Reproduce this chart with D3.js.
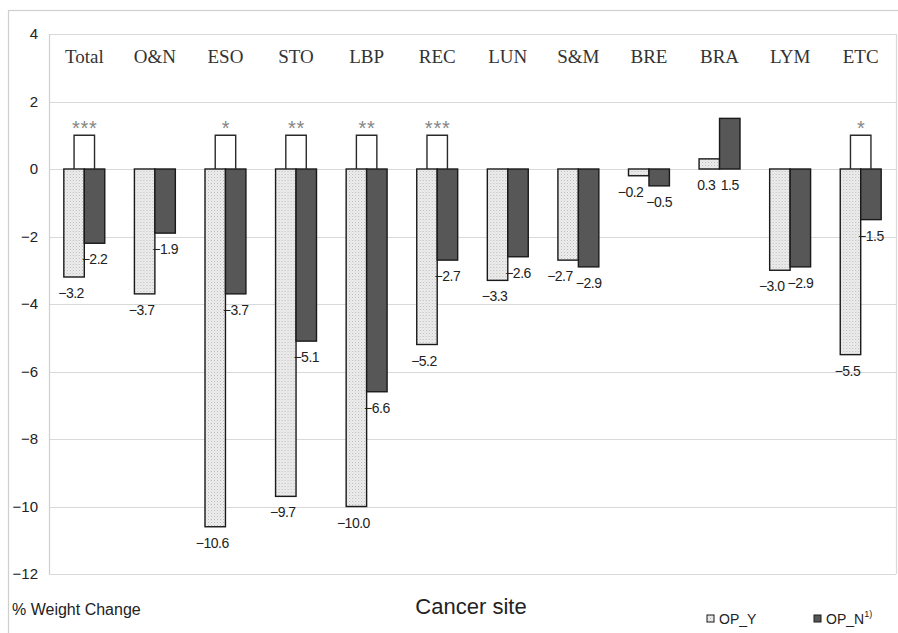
<!DOCTYPE html>
<html>
<head>
<meta charset="utf-8">
<script src="https://cdn.jsdelivr.net/npm/d3@7"></script>
<style>
  html, body { margin: 0; padding: 0; background: #fff; }
  svg { display: block; }
</style>
</head>
<body>
<svg id="chart" width="898" height="633"></svg>
<script>
// Cancer sites and mean % weight change by group
const sites = ["Total", "O&N", "ESO", "STO", "LBP", "REC", "LUN", "S&M", "BRE", "BRA", "LYM", "ETC"];
const opY = [-3.2, -3.7, -10.6, -9.7, -10.0, -5.2, -3.3, -2.7, -0.2, 0.3, -3.0, -5.5];
const opN = [-2.2, -1.9, -3.7, -5.1, -6.6, -2.7, -2.6, -2.9, -0.5, 1.5, -2.9, -1.5];
const significance = ["***", "", "*", "**", "**", "***", "", "", "", "", "", "*"];
const seriesNames = ["OP_Y", "OP_N"];
const yTicks = [-12, -10, -8, -6, -4, -2, 0, 2, 4];

const svg = d3.select("#chart");
const plot = { left: 49, right: 896, top: 34, bottom: 574 };
const sans = "Liberation Sans, Arial, sans-serif";

// stippled fill for the OP_Y bars
const defs = svg.append("defs");
const pat = defs.append("pattern")
  .attr("id", "dots").attr("patternUnits", "userSpaceOnUse")
  .attr("width", 3).attr("height", 3);
pat.append("rect").attr("width", 3).attr("height", 3).attr("fill", "#eeeeee");
pat.append("rect").attr("x", 0).attr("y", 0).attr("width", 1).attr("height", 1).attr("fill", "#b8b8b8");
pat.append("rect").attr("x", 1.5).attr("y", 1.5).attr("width", 1).attr("height", 1).attr("fill", "#cfcfcf");

// outer frame
svg.append("rect")
  .attr("x", 8.5).attr("y", 10.5).attr("width", 900).attr("height", 640)
  .attr("fill", "none").attr("stroke", "#cfcfcf").attr("stroke-width", 1.2);

const x = d3.scaleBand().domain(sites).range([plot.left, plot.right])
  .paddingInner(0.42).paddingOuter(0.21);
const xs = d3.scaleBand().domain(seriesNames).range([0, x.bandwidth()]);
const y = d3.scaleLinear().domain([-12, 4]).range([plot.bottom, plot.top]);

// gridlines and plot edges
svg.append("g").selectAll("line").data(yTicks).join("line")
  .attr("x1", plot.left).attr("x2", plot.right)
  .attr("y1", d => Math.round(y(d)) + 0.5).attr("y2", d => Math.round(y(d)) + 0.5)
  .attr("stroke", "#d9d9d9").attr("stroke-width", 1.2);
svg.append("line")
  .attr("x1", plot.left + 0.5).attr("x2", plot.left + 0.5)
  .attr("y1", plot.top).attr("y2", plot.bottom)
  .attr("stroke", "#cfcfcf").attr("stroke-width", 1.2);
svg.append("line")
  .attr("x1", plot.right + 0.5).attr("x2", plot.right + 0.5)
  .attr("y1", plot.top).attr("y2", plot.bottom)
  .attr("stroke", "#d9d9d9").attr("stroke-width", 1.2);

// y axis labels
const yAxis = d3.axisLeft(y).tickValues(yTicks).tickSize(0).tickPadding(11)
  .tickFormat(d3.format("d"));
const ga = svg.append("g").attr("transform", `translate(${plot.left},0)`).call(yAxis);
ga.select(".domain").remove();
ga.selectAll("text")
  .attr("font-family", sans)
  .attr("font-size", 15).attr("fill", "#222");

// category labels along the top
svg.append("g").selectAll("text").data(sites).join("text")
  .attr("x", d => x(d) + x.bandwidth() / 2)
  .attr("y", 63)
  .attr("text-anchor", "middle")
  .attr("font-family", "Liberation Serif, Times New Roman, serif")
  .attr("font-size", 19).attr("fill", "#333")
  .text(d => d);

const rows = sites.map((s, i) => ({ site: s, vals: [opY[i], opN[i]], sig: significance[i] }));
const fills = ["url(#dots)", "#575757"];

// bars
const groups = svg.append("g").selectAll("g").data(rows).join("g")
  .attr("transform", d => `translate(${x(d.site)},0)`);
groups.selectAll("rect").data(d => d.vals.map((v, k) => ({ v, k }))).join("rect")
  .attr("x", d => xs(seriesNames[d.k]))
  .attr("width", xs.bandwidth())
  .attr("y", d => y(Math.max(0, d.v)))
  .attr("height", d => Math.abs(y(d.v) - y(0)))
  .attr("fill", d => fills[d.k])
  .attr("stroke", "#1a1a1a").attr("stroke-width", 1.4);

// value labels below each bar (positive bars get their label under the zero line)
const fmt = d3.format(".1f");
const labelY = v => y(Math.min(0, v)) + 21;
groups.each(function (d) {
  const g = d3.select(this);
  const cx = d.vals.map((v, k) => xs(seriesNames[k]) + xs.bandwidth() / 2);
  const texts = d.vals.map((v, k) => g.append("text")
    .attr("x", cx[k] - (k === 0 ? 3 : 0))
    .attr("y", labelY(v))
    .attr("text-anchor", "middle")
    .attr("font-family", sans)
    .attr("font-size", 14).attr("letter-spacing", -0.5).attr("fill", "#222")
    .text(fmt(v)));
  // when the two labels sit on nearly the same line, push the OP_Y label left
  if (Math.abs(labelY(d.vals[0]) - labelY(d.vals[1])) < 13) {
    const wY = texts[0].node().getComputedTextLength();
    const wN = texts[1].node().getComputedTextLength();
    const rightY = cx[1] - wN / 2 - 3;
    const curY = +texts[0].attr("x");
    if (curY + wY / 2 > rightY) texts[0].attr("x", rightY - wY / 2);
  }
});

// significance brackets
const sigRows = groups.filter(d => d.sig !== "");
const cY = xs("OP_Y") + xs.bandwidth() / 2;
const cN = xs("OP_N") + xs.bandwidth() / 2;
sigRows.append("path")
  .attr("d", `M${cY},${y(0)}V${y(1)}H${cN}V${y(0)}`)
  .attr("fill", "none").attr("stroke", "#2a2a2a").attr("stroke-width", 1.4);
sigRows.append("text")
  .attr("x", (cY + cN) / 2 + 0.5)
  .attr("y", y(1) + 0)
  .attr("text-anchor", "middle")
  .attr("font-family", sans)
  .attr("font-size", 20).attr("letter-spacing", 0.8).attr("fill", "#858585")
  .text(d => d.sig);

// axis titles
svg.append("text")
  .attr("x", 12).attr("y", 615)
  .attr("font-family", sans)
  .attr("font-size", 16).attr("fill", "#222")
  .text("% Weight Change");
svg.append("text")
  .attr("x", 471).attr("y", 614)
  .attr("text-anchor", "middle")
  .attr("font-family", sans)
  .attr("font-size", 22).attr("fill", "#222")
  .text("Cancer site");

// legend
const legendX = [707, 814];
const lg = svg.append("g").selectAll("g").data(seriesNames).join("g")
  .attr("transform", (d, i) => `translate(${legendX[i]},0)`);
lg.append("rect")
  .attr("x", 0).attr("y", 615).attr("width", 7).attr("height", 7)
  .attr("fill", (d, i) => fills[i]).attr("stroke", "#1a1a1a").attr("stroke-width", 1);
const lt = lg.append("text")
  .attr("x", 12).attr("y", 624)
  .attr("font-family", sans)
  .attr("font-size", 14).attr("fill", "#222")
  .text(d => d);
lt.filter(d => d === "OP_N").append("tspan")
  .attr("dy", -7).attr("font-size", 9).text("1)");
</script>
</body>
</html>
